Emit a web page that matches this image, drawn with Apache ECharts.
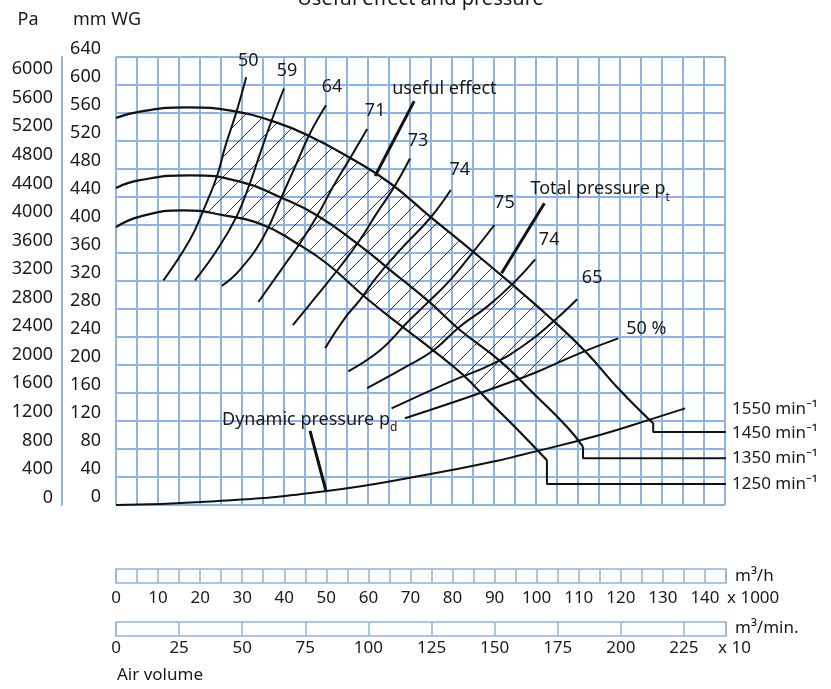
<!DOCTYPE html>
<html>
<head>
<meta charset="utf-8">
<script src="https://cdn.jsdelivr.net/npm/echarts@6/dist/echarts.min.js"></script>
<style>
  html, body { margin: 0; padding: 0; background: #fff; }
  #chart { width: 831px; height: 689px; }
</style>
</head>
<body>
<div id="chart"></div>
<script>
// x: air volume in 1000 m3/h, y: pressure in mm WG
const volumeTicksHour = [0, 10, 20, 30, 40, 50, 60, 70, 80, 90, 100, 110, 120, 130, 140];
const volumeTicksMin = [0, 25, 50, 75, 100, 125, 150, 175, 200, 225];
const pressureTicksPa = [0, 400, 800, 1200, 1600, 2000, 2400, 2800, 3200, 3600, 4000, 4400, 4800, 5200, 5600, 6000];
const speedNames = ["1550", "1450", "1350", "1250"];

const total1450 = [[0, 553], [5.7, 562], [16.8, 568], [28.7, 562], [37.4, 548], [45.4, 529], [55.7, 496], [65.2, 460], [74.8, 412], [85, 362], [94.5, 314], [104, 264], [112.1, 217], [119.2, 169], [127.1, 121], [127.9, 117]];
const total1350 = [[0, 453], [5.7, 464], [17.6, 471], [29.5, 462], [39, 440], [47.8, 414], [57.3, 374], [65.2, 336], [74.8, 289], [81.9, 250], [91.4, 206], [99.3, 160], [107.3, 112], [111.2, 83]];
const total1250 = [[0, 397], [5.7, 412], [16, 421], [25.5, 414], [35, 400], [43, 374], [50.2, 345], [59.7, 295], [69.2, 250], [75.5, 221], [82.6, 186], [89, 147], [95.4, 109], [102.6, 64]];

const step1450 = [[127.9, 117], [127.9, 104.3], [145.5, 104.3]];
const step1350 = [[111.2, 83], [111.2, 66.7], [145.5, 66.7]];
const step1250 = [[102.6, 64], [102.6, 30], [145.5, 30]];

const dynamicPressure = [[0, 0], [22.4, 5], [50.2, 20], [75.5, 45], [91.4, 64], [96.2, 71], [115.2, 100], [127.1, 122], [135.5, 138]];

const effNames = ["50", "59", "64", "71", "73", "74", "75", "74", "65", "50 %"];
const eff50 = [[11.3, 321], [17.6, 379], [20.8, 421], [24, 469], [26, 512], [28.7, 562], [31, 611]];
const eff59 = [[18.8, 321], [24, 364], [28.7, 412], [31.9, 460], [34.3, 502], [37.1, 550], [40, 595]];
const eff64 = [[25.2, 313], [29.5, 336], [35.1, 383], [39.8, 445], [43, 488], [46.2, 531], [50, 571]];
const eff71 = [[33.9, 290], [39.8, 340], [43.8, 374], [47.8, 412], [51.7, 455], [55.7, 495], [59.8, 537]];
const eff73 = [[42.1, 257], [47, 293], [53.3, 340], [58.1, 379], [62.1, 417], [66, 452], [70, 495]];
const eff74a = [[49.8, 224], [54.5, 267], [58.1, 293], [62.1, 326], [67.6, 364], [74.8, 410], [79.7, 450]];
const eff75 = [[55.3, 191], [62.9, 221], [69.2, 260], [74, 288], [79.5, 321], [85.1, 362], [90.1, 400]];
const eff74b = [[59.8, 167], [69.2, 198], [75.6, 221], [81.9, 255], [88.3, 283], [94.6, 317], [99.8, 351]];
const eff65 = [[65.6, 138], [79.5, 176], [89.8, 202], [97.8, 231], [104.1, 262], [109.8, 294]];
const eff50pct = [[68.8, 124], [81.9, 150], [91.4, 170], [100.2, 190], [110.5, 217], [119.6, 238]];

const leaderUseful = [[71, 577], [61.7, 470]];
const leaderTotal = [[102, 431], [91.8, 331]];
const leaderDynamic = [[46.2, 106], [50, 20]];

const BLUE = "#8DB4E2";
const INK = "#1a1a1a";
const FONT = "Noto Sans";

const effLines = [eff50, eff59, eff64, eff71, eff73, eff74a, eff75, eff74b, eff65, eff50pct];
const effLabelOffset = [[2, -16], [3, -18], [6, -18], [8, -18], [8, -18], [9, -20], [10, -22], [14, -19], [15, -21], [28, -10]];

// hatched field between top and bottom curve, from the 50 line to the 50 % line
function segCross(p1, p2, p3, p4) {
  const d = (p2[0] - p1[0]) * (p4[1] - p3[1]) - (p2[1] - p1[1]) * (p4[0] - p3[0]);
  if (d === 0) return null;
  const t = ((p3[0] - p1[0]) * (p4[1] - p3[1]) - (p3[1] - p1[1]) * (p4[0] - p3[0])) / d;
  const u = ((p3[0] - p1[0]) * (p2[1] - p1[1]) - (p3[1] - p1[1]) * (p2[0] - p1[0])) / d;
  if (t < 0 || t > 1 || u < 0 || u > 1) return null;
  return [p1[0] + t * (p2[0] - p1[0]), p1[1] + t * (p2[1] - p1[1])];
}
function crossing(a, b) {
  for (let i = 0; i < a.length - 1; i++) {
    for (let j = 0; j < b.length - 1; j++) {
      const p = segCross(a[i], a[i + 1], b[j], b[j + 1]);
      if (p) return { p, i, j };
    }
  }
  return null;
}
function hatchField() {
  const A = crossing(eff50, total1450);
  const B = crossing(total1450, eff50pct);
  const C = crossing(eff50pct, total1250);
  const D = crossing(total1250, eff50);
  const pts = [A.p];
  for (let k = A.j + 1; k <= B.i; k++) pts.push(total1450[k]);
  pts.push(B.p);
  for (let k = B.j; k > C.i; k--) pts.push(eff50pct[k]);
  pts.push(C.p);
  for (let k = C.j; k > D.i; k--) pts.push(total1250[k]);
  pts.push(D.p);
  for (let k = D.j + 1; k <= A.i; k++) pts.push(eff50[k]);
  return pts;
}
function makeHatch(size) {
  const c = document.createElement("canvas");
  c.width = size;
  c.height = size;
  const ctx = c.getContext("2d");
  ctx.strokeStyle = "#222";
  ctx.lineWidth = 0.9;
  ctx.beginPath();
  ctx.moveTo(0, size); ctx.lineTo(size, 0);
  ctx.moveTo(-size / 2, size / 2); ctx.lineTo(size / 2, -size / 2);
  ctx.moveTo(size / 2, size * 1.5); ctx.lineTo(size * 1.5, size / 2);
  ctx.stroke();
  return c;
}
const hatchPoly = hatchField();
const hatchCanvas = makeHatch(20);

function lineSeries(data, width, smooth) {
  return {
    type: "line",
    xAxisIndex: 0,
    yAxisIndex: 0,
    data: data,
    smooth: smooth,
    symbol: "none",
    silent: true,
    clip: false,
    lineStyle: { color: "#111", width: width }
  };
}

const chart = echarts.init(document.getElementById("chart"));

const option = {
  animation: false,
  textStyle: { fontFamily: FONT },
  grid: [
    { left: 116, right: 106, top: 57, bottom: 184 },
    { left: 116, right: 105, top: 569, height: 14, show: true, borderColor: BLUE, borderWidth: 1.5 },
    { left: 116, right: 105, top: 622, height: 14, show: true, borderColor: BLUE, borderWidth: 1.5 }
  ],
  xAxis: [
    {
      gridIndex: 0, type: "value", min: 0, max: 145, interval: 5,
      axisLine: { show: false }, axisTick: { show: false }, axisLabel: { show: false },
      splitLine: { lineStyle: { color: BLUE, width: 2 } }
    },
    {
      gridIndex: 1, type: "value", min: 0, max: 145, interval: 5,
      axisLine: { show: false }, axisTick: { show: false },
      splitLine: { lineStyle: { color: BLUE, width: 1.5 } },
      axisLabel: {
        margin: 7, fontSize: 17, color: INK, fontFamily: FONT,
        formatter: v => volumeTicksHour.includes(v) ? String(v) : ""
      }
    },
    {
      gridIndex: 2, type: "value", min: 0, max: 145000 / 600, interval: 25,
      axisLine: { show: false }, axisTick: { show: false },
      splitLine: { lineStyle: { color: BLUE, width: 1.5 } },
      axisLabel: {
        margin: 4, fontSize: 17, color: INK, fontFamily: FONT, showMaxLabel: false,
        formatter: v => volumeTicksMin.includes(v) ? String(v) : ""
      }
    }
  ],
  yAxis: [
    {
      gridIndex: 0, type: "value", min: 0, max: 640, interval: 40, position: "left",
      axisLine: { show: false }, axisTick: { show: false },
      splitLine: { lineStyle: { color: BLUE, width: 2 } },
      axisLabel: { margin: 15, fontSize: 18, lineHeight: 16, color: INK, fontFamily: FONT, verticalAlign: "bottom" }
    },
    {
      gridIndex: 0, type: "value", min: 0, max: 640 * 9.80665, interval: 400, position: "left", offset: 54,
      axisLine: { show: true, lineStyle: { color: BLUE, width: 2 } },
      axisTick: { show: false }, splitLine: { show: false },
      axisLabel: {
        margin: 9, fontSize: 18, lineHeight: 15, color: INK, fontFamily: FONT, verticalAlign: "bottom",
        showMaxLabel: false,
        formatter: v => pressureTicksPa.includes(v) ? String(v) : ""
      }
    },
    { gridIndex: 1, type: "value", min: 0, max: 1, show: false },
    { gridIndex: 2, type: "value", min: 0, max: 1, show: false }
  ],
  series: [
    {
      type: "custom",
      xAxisIndex: 0,
      yAxisIndex: 0,
      z: 1,
      silent: true,
      data: [[0, 0]],
      renderItem: (params, api) => ({
        type: "polygon",
        shape: { points: hatchPoly.map(p => api.coord(p)) },
        style: { fill: { image: hatchCanvas, repeat: "repeat" }, stroke: null }
      })
    },
    lineSeries(total1450, 2.2, 0.5),
    lineSeries(total1350, 2.2, 0.5),
    lineSeries(total1250, 2.2, 0.5),
    lineSeries(step1450, 2, false),
    lineSeries(step1350, 2, false),
    lineSeries(step1250, 2, false),
    lineSeries(dynamicPressure, 2, 0.5),
    ...effLines.map(d => lineSeries(d, 2, 0.45)),
    lineSeries(leaderUseful, 3, false),
    lineSeries(leaderTotal, 3, false),
    lineSeries(leaderDynamic, 3, false)
  ]
};

chart.setOption(option);

// text annotations, placed after the axes exist
const toPx = p => chart.convertToPixel({ gridIndex: 0 }, p);
const txt = (x, y, text, extra) => ({
  type: "text", x: x, y: y, silent: true,
  style: Object.assign({ text: text, fill: INK, fontSize: 18, fontFamily: FONT, align: "left", verticalAlign: "middle" }, extra || {})
});
const subRich = {
  a: { fontSize: 18, fontFamily: FONT, fill: INK, lineHeight: 22, verticalAlign: "top" },
  s: { fontSize: 12, fontFamily: FONT, fill: INK, lineHeight: 12, padding: [11, 0, 0, 0], verticalAlign: "top" }
};

const graphics = [
  txt(420.5, -1, "Useful effect and pressure", { fontSize: 20, align: "center" }),
  txt(28, 20, "Pa", { align: "center" }),
  txt(107, 20, "mm WG", { align: "center" })
];
effLines.forEach((d, i) => {
  const end = toPx(d[d.length - 1]);
  const off = effLabelOffset[i];
  graphics.push(txt(end[0] + off[0], end[1] + off[1], effNames[i], { align: "center" }));
});
const usefulTop = toPx(leaderUseful[0]);
graphics.push(txt(usefulTop[0] - 22, usefulTop[1] - 12, "useful effect"));
const totalTop = toPx(leaderTotal[0]);
graphics.push({
  type: "text", x: totalTop[0] - 14, y: totalTop[1] - 23, silent: true,
  style: { text: "{a|Total pressure p}{s|t}", rich: subRich, verticalAlign: "top" }
});
const dynTop = toPx(leaderDynamic[0]);
graphics.push({
  type: "text", x: dynTop[0] - 88, y: dynTop[1] - 20, silent: true,
  style: { text: "{a|Dynamic pressure p}{s|d}", rich: subRich, verticalAlign: "top" }
});
const speedY = [409, 433, 458, 484];
speedNames.forEach((s, i) => {
  graphics.push(txt(732, speedY[i], s + " min\u207B\u00B9", { fontSize: 17 }));
});
graphics.push(txt(735, 576, "m\u00B3/h", { fontSize: 17 }));
graphics.push(txt(727, 598, "x 1000", { fontSize: 17 }));
graphics.push(txt(735, 628, "m\u00B3/min.", { fontSize: 17 }));
graphics.push(txt(718, 648, "x 10", { fontSize: 17 }));
graphics.push(txt(117, 675, "Air volume", { fontSize: 17 }));

chart.setOption({ graphic: graphics });
</script>
</body>
</html>
